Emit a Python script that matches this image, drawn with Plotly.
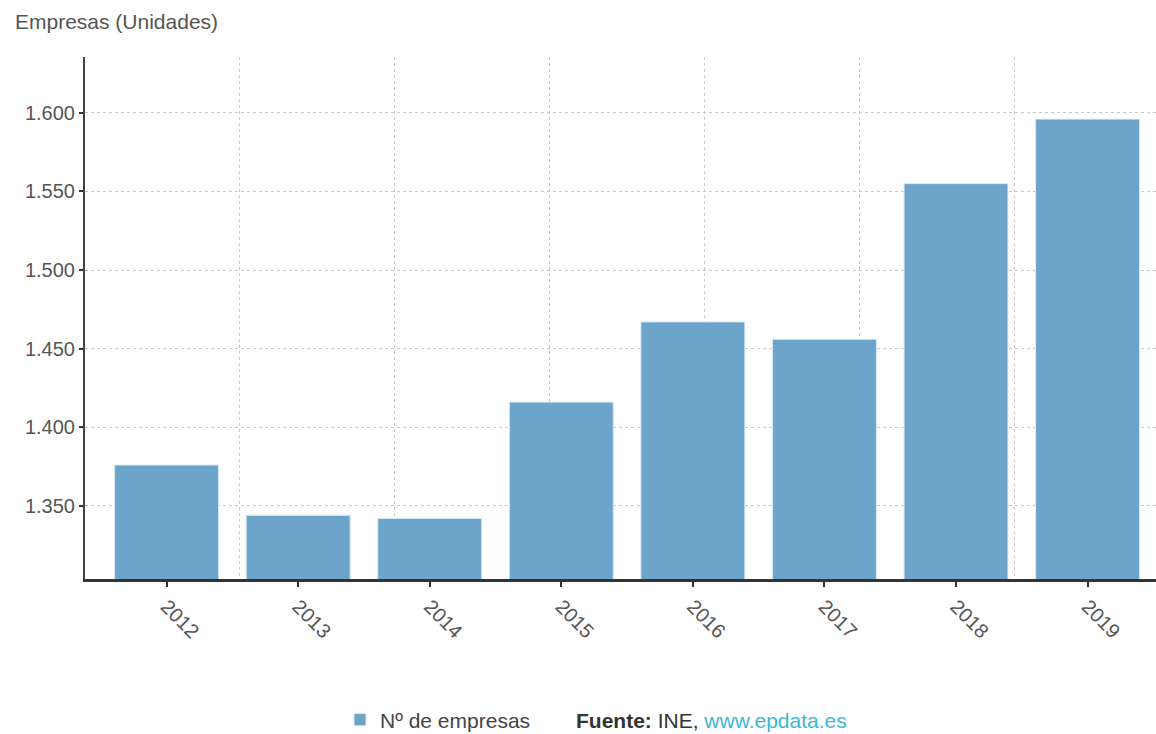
import plotly.graph_objects as go

# Datos: número de empresas por año
years = ['2012', '2013', '2014', '2015', '2016', '2017', '2018', '2019']
empresas = [1376, 1344, 1342, 1416, 1467, 1456, 1555, 1596]

bar_color = '#6ca5c9'
font_family = 'Liberation Sans, Arial, sans-serif'

fig = go.Figure()

fig.add_trace(go.Bar(
    x=years,
    y=empresas,
    name='Nº de empresas',
    marker=dict(color=bar_color, line=dict(color='#d6e8f3', width=1)),
    width=0.79,
    hovertemplate='%{x}: %{y:,d}<extra></extra>'
))

# traza vacía para que se dibuje el eje secundario (rejilla vertical)
fig.add_trace(go.Scatter(x=[], y=[], xaxis='x2', showlegend=False, hoverinfo='skip'))

fig.update_layout(
    width=1156,
    height=734,
    margin=dict(l=85, r=0, t=57, b=155),
    plot_bgcolor='white',
    paper_bgcolor='white',
    separators=',.',
    font=dict(family=font_family, size=20, color='#555'),
    title=dict(
        text='Empresas (Unidades)',
        x=15 / 1156, xref='container', xanchor='left',
        y=1 - 22 / 734, yref='container', yanchor='middle',
        font=dict(size=21, color='#555')
    ),
    xaxis=dict(
        range=[-0.62, 7.52],
        tickangle=45,
        showgrid=False,
        showline=True, linecolor='#333', linewidth=3,
        ticks='outside', ticklen=5, tickcolor='#333', tickwidth=2,
        tickfont=dict(size=20, color='#555'),
        fixedrange=True
    ),
    xaxis2=dict(
        overlaying='x',
        range=[0, 6.91],
        dtick=1,
        showgrid=True, gridcolor='#c8c8c8', griddash='dot', gridwidth=1,
        showticklabels=False, ticks='', zeroline=False, showline=False,
        fixedrange=True
    ),
    yaxis=dict(
        range=[1303.5, 1635.5],
        dtick=50, tick0=1300,
        tickformat=',d',
        showgrid=True, gridcolor='#c8c8c8', griddash='dot', gridwidth=1,
        showline=True, linecolor='#444', linewidth=2,
        ticks='outside', ticklen=4, tickcolor='#333', tickwidth=2,
        tickfont=dict(size=20, color='#555'),
        zeroline=False,
        fixedrange=True
    ),
    showlegend=True,
    legend=dict(
        orientation='h',
        xref='container', x=340 / 1156, xanchor='left',
        yref='container', y=14 / 734, yanchor='middle',
        font=dict(size=21, color='#444'),
        itemwidth=30
    ),
    bargap=0.21
)

fig.add_annotation(
    text="<b>Fuente:</b> INE, <span style='color:#3bb8d8'>www.epdata.es</span>",
    xref='paper', yref='paper',
    x=(574 - 85) / 1071, y=(579 - 720) / 522,
    xanchor='left', yanchor='middle',
    showarrow=False,
    font=dict(size=21, color='#333')
)

fig.write_html('out.html', config={'displayModeBar': False},
               post_script="document.body.style.margin='0';")
